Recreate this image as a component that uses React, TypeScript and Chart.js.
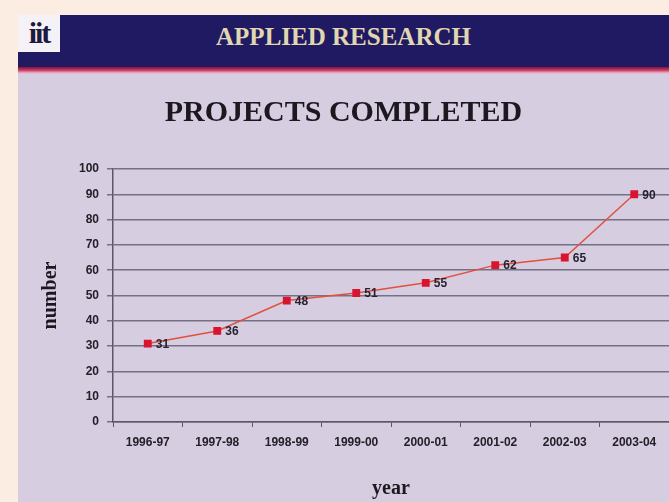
import React, { useEffect, useRef } from "react";
import { Chart, registerables } from "chart.js";

Chart.register(...registerables);

const categories = ["1996-97", "1997-98", "1998-99", "1999-00", "2000-01", "2001-02", "2002-03", "2003-04"];
const projectsCompleted = [31, 36, 48, 51, 55, 62, 65, 90];
const yTicks = [0, 10, 20, 30, 40, 50, 60, 70, 80, 90, 100];
const headerText = "APPLIED RESEARCH";
const chartTitle = "PROJECTS COMPLETED";
const xAxisTitle = "year";
const yAxisTitle = "number";

const valueLabels = {
  id: "valueLabels",
  afterDatasetsDraw(chart: any) {
    const ctx = chart.ctx;
    const meta = chart.getDatasetMeta(0);
    ctx.save();
    ctx.font = "bold 12px 'Liberation Sans', Arial, sans-serif";
    ctx.fillStyle = "#262230";
    ctx.textBaseline = "middle";
    ctx.textAlign = "left";
    meta.data.forEach((pt: any, i: number) => {
      ctx.fillText(String(chart.data.datasets[0].data[i]), pt.x + 8, pt.y + 1);
    });
    ctx.restore();
  },
};

export default function App() {
  const ref = useRef<HTMLCanvasElement>(null);
  useEffect(() => {
    if (!ref.current) return;
    const chart = new Chart(ref.current, {
      type: "line",
      data: {
        labels: categories,
        datasets: [
          {
            data: projectsCompleted,
            borderColor: "#e2503e",
            borderWidth: 1.5,
            pointStyle: "rect",
            pointRadius: 4.5,
            pointBackgroundColor: "#d8142e",
            pointBorderColor: "#d8142e",
            tension: 0,
            clip: false,
          },
        ],
      },
      options: {
        animation: false,
        responsive: false,
        layout: { autoPadding: false, padding: { left: 0, right: 0, top: 0, bottom: 0 } },
        plugins: {
          legend: { display: false },
          tooltip: { enabled: false },
          title: {
            display: true,
            text: chartTitle,
            color: "#1c1820",
            font: { family: "'Liberation Serif', 'Times New Roman', serif", size: 30, weight: "bold", lineHeight: 1.2 },
            padding: { top: 22, bottom: 38 },
          },
        },
        scales: {
          x: {
            type: "category",
            offset: true,
            afterFit(scale: any) {
              scale.height = 80;
            },
            grid: {
              display: true,
              offset: true,
              drawOnChartArea: false,
              drawTicks: true,
              tickLength: 5,
              color: "#5c5868",
            },
            border: { display: true, color: "#5c5868", width: 1.5 },
            ticks: {
              color: "#222028",
              padding: 8,
              maxRotation: 0,
              autoSkip: false,
              font: { family: "'Liberation Sans', Arial, sans-serif", size: 12, weight: "bold" },
            },
            title: {
              display: true,
              text: xAxisTitle,
              color: "#1c1820",
              font: { family: "'Liberation Serif', 'Times New Roman', serif", size: 20, weight: "bold", lineHeight: 1.2 },
              padding: { top: 0, bottom: 1 },
            },
          },
          y: {
            min: 0,
            max: 100,
            afterFit(scale: any) {
              scale.width = 95;
            },
            afterBuildTicks(scale: any) {
              scale.ticks = yTicks.map((v) => ({ value: v }));
            },
            grid: {
              color: "#747086",
              lineWidth: 1.5,
              drawTicks: true,
              tickLength: 6,
            },
            border: { display: true, color: "#5c5868", width: 1.5 },
            ticks: {
              color: "#222028",
              padding: 8,
              font: { family: "'Liberation Sans', Arial, sans-serif", size: 12, weight: "bold" },
            },
            title: {
              display: true,
              text: yAxisTitle,
              color: "#1c1820",
              font: { family: "'Liberation Serif', 'Times New Roman', serif", size: 20, weight: "bold", lineHeight: 1.2 },
              padding: { top: 21, bottom: 0 },
            },
          },
        },
      },
      plugins: [valueLabels],
    } as any);
    return () => chart.destroy();
  }, []);

  return (
    <div style={{ position: "fixed", left: 0, top: 0, width: 669, height: 502, background: "#fbede2", overflow: "hidden" }}>
      <div style={{ position: "absolute", left: 18, top: 15, width: 651, height: 52, background: "#1f1a62" }} />
      <div
        style={{
          position: "absolute",
          left: 18,
          top: 67,
          width: 651,
          height: 7,
          background: "linear-gradient(#7e1440, #c83a5e 45%, #eaa2bf 80%, #d7cde1)",
        }}
      />
      <div style={{ position: "absolute", left: 18, top: 74, width: 651, height: 428, background: "#d7cde1" }} />
      <div
        style={{
          position: "absolute",
          left: 18,
          top: 15,
          width: 42,
          height: 37,
          background: "#f4f2f6",
          fontFamily: "'Liberation Serif', serif",
          fontWeight: "bold",
          fontSize: 30,
          lineHeight: "36px",
          textAlign: "center",
          color: "#1c1a40",
          letterSpacing: -2,
        }}
      >
        iit
      </div>
      <div
        style={{
          position: "absolute",
          left: 18,
          top: 15,
          width: 651,
          height: 44,
          lineHeight: "44px",
          textAlign: "center",
          fontFamily: "'Liberation Serif', 'Times New Roman', serif",
          fontWeight: "bold",
          fontSize: 25,
          color: "#e0d6b0",
        }}
      >
        {headerText}
      </div>
      <canvas ref={ref} width={651} height={429} style={{ position: "absolute", left: 18, top: 73, width: 651, height: 429 }} />
    </div>
  );
}
